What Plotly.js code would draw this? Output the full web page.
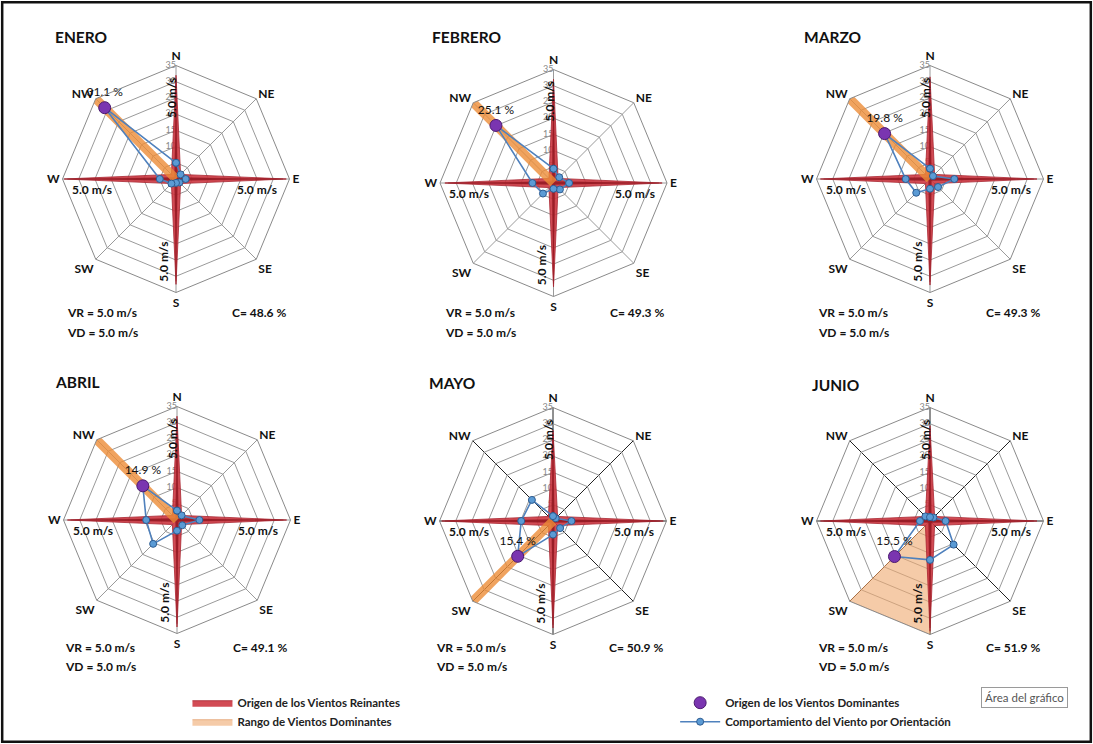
<!DOCTYPE html>
<html><head><meta charset="utf-8">
<script src="https://cdn.plot.ly/plotly-3.0.1.min.js"></script>
<style>html,body{margin:0;padding:0;background:#fff}#chart{width:1093px;height:744px}</style>
</head><body><div id="chart"></div>
<script>
// ---------- DATA ----------
const directions = ['N','NE','E','SE','S','SW','W','NW'];
const months = ['ENERO','FEBRERO','MARZO','ABRIL','MAYO','JUNIO'];

// Origen de los Vientos Reinantes (red star), values per direction
const reinantesEnero   = [32, 2, 34, 2, 32.5, 2, 34.5, 2];
const reinantesFebrero = [32, 2, 33.5, 2, 32, 2, 33.5, 2];
const reinantesMarzo   = [31.5, 2, 33, 2, 32.7, 2, 33.8, 2];
const reinantesAbril   = [32, 2, 33.8, 2, 33, 2, 33.8, 2];
const reinantesMayo    = [28, 2, 34, 2, 33, 2, 34.3, 2];
const reinantesJunio   = [29.4, 2, 33, 2, 34, 2, 33.8, 2];

// Comportamiento del Viento por Orientación (blue), % per direction
const comportEnero   = [5, 2, 3, 1.5, 1.2, 2, 5, 31.1];
const comportFebrero = [4.4, 2.5, 4.8, 2.8, 1.8, 4.6, 6.5, 25.1];
const comportMarzo   = [3.2, 1.3, 7.5, 3.5, 3, 6, 7.5, 19.8];
const comportAbril   = [2.9, 2, 6.9, 2.3, 3.3, 10.4, 9.5, 14.9];
const comportMayo    = [1.5, 1.2, 5.7, 3.1, 4.2, 15.4, 9.8, 9.2];
const comportJunio   = [1.2, 1.5, 4.8, 10.3, 12, 15.5, 3.1, 2];

// Origen de los Vientos Dominantes (purple)
const dominanteDir = ['NW','NW','NW','NW','SW','SW'];
const dominantePct = [31.1, 25.1, 19.8, 14.9, 15.4, 15.5];

// Rango de Vientos Dominantes (orange)
const rangoEnero   = ['NW'];
const rangoFebrero = ['NW'];
const rangoMarzo   = ['NW'];
const rangoAbril   = ['NW'];
const rangoMayo    = ['SW'];
const rangoJunio   = ['SW','S'];
const rangoMax = 35;

const velReinantes = [5.0, 5.0, 5.0, 5.0, 5.0, 5.0];   // VR m/s
const velDominantes = [5.0, 5.0, 5.0, 5.0, 5.0, 5.0];  // VD m/s
const calmas = [48.6, 49.3, 49.3, 49.1, 50.9, 51.9];    // C %
const radialTicks = [5, 10, 15, 20, 25, 30, 35];

const reinantes = [reinantesEnero, reinantesFebrero, reinantesMarzo, reinantesAbril, reinantesMayo, reinantesJunio];
const comport = [comportEnero, comportFebrero, comportMarzo, comportAbril, comportMayo, comportJunio];
const rangos = [rangoEnero, rangoFebrero, rangoMarzo, rangoAbril, rangoMayo, rangoJunio];

// ---------- LAYOUT GEOMETRY ----------
const W = 1093, H = 744, R = 113.5;
const centers = [[176,179],[553.5,183],[930,179],[177,520],[553,521],[930,521]];
const titleXY = [[53,37],[430,37],[802,37],[53,382],[427,383],[810,385]];
const vrXY = [[65,313],[443,313],[816,313],[63,647],[434,647],[816,647]];
const darkSpokes = [false,false,false,false,true,true];
const FONT = "Lato, 'Open Sans', sans-serif";

const px = x => x / W;
const py = y => 1 - y / H;

const data = [];
const layout = {
  width: W, height: H,
  margin: {l:0, r:0, t:0, b:0},
  paper_bgcolor: '#fff',
  font: {family: FONT, color: '#111'},
  showlegend: true,
  annotations: [],
  shapes: [{type:'rect', xref:'paper', yref:'paper', x0:0.002, x1:0.998, y0:0.003, y1:0.997,
            line:{color:'#111', width:2.5}}],
  legend: {x: 0.1715, y: 0.075, xanchor:'left', yanchor:'top', bgcolor:'rgba(0,0,0,0)',
           font:{family: FONT, size: 11.5, weight: 'bold', color:'#222'}, tracegroupgap: 0, itemwidth: 40},
  legend2: {x: 0.6177, y: 0.075, xanchor:'left', yanchor:'top', bgcolor:'rgba(0,0,0,0)',
           font:{family: FONT, size: 11.5, weight: 'bold', color:'#222'}, tracegroupgap: 0, itemwidth: 40}
};

months.forEach((m, i) => {
  const sp = 'polar' + (i ? i + 1 : '');
  const [cx, cy] = centers[i];
  layout[sp] = {
    domain: {x: [px(cx - R), px(cx + R)], y: [py(cy + R), py(cy - R)]},
    gridshape: 'linear',
    bgcolor: '#fff',
    angularaxis: {
      type: 'category', categoryarray: directions, rotation: 90, direction: 'clockwise',
      showline: true, linecolor: '#8a8a8a', linewidth: 1,
      gridcolor: darkSpokes[i] ? '#222' : '#9a9a9a', gridwidth: 1,
      ticks: '', tickfont: {family: FONT, size: 12, weight: 'bold', color: '#111'}
    },
    radialaxis: {
      range: [0, 35], tickvals: radialTicks, angle: 90, showticklabels: false,
      showline: false, gridcolor: '#9a9a9a', ticks: ''
    }
  };

  const rein = reinantes[i];
  const closedDirs = directions.concat([directions[0]]);
  const rango = rangos[i];
  const orangeTrace = rango.length > 1 ? {
    type: 'scatterpolar', subplot: sp, mode: 'lines',
    r: [0].concat(rango.map(() => rangoMax), [0]),
    theta: [rango[0]].concat(rango, [rango[rango.length - 1]]),
    fill: 'toself', fillcolor: 'rgba(238,168,110,0.6)',
    line: {color: 'rgba(220,140,80,0.6)', width: 1},
    name: 'Rango de Vientos Dominantes', showlegend: true, legend: 'legend', legendrank: 2, hoverinfo: 'skip'
  } : {
    type: 'scatterpolar', subplot: sp, mode: 'lines',
    r: [0, rangoMax], theta: [rango[0], rango[0]],
    line: {color: 'rgba(236,140,55,0.8)', width: 9},
    name: 'Rango de Vientos Dominantes', showlegend: false, hoverinfo: 'skip'
  };

  const redStar = {
    type: 'scatterpolar', subplot: sp, mode: 'lines',
    r: rein.concat([rein[0]]), theta: closedDirs,
    fill: 'toself', fillcolor: 'rgba(205,55,65,0.9)',
    line: {color: '#a82430', width: 0.8},
    name: 'Origen de los Vientos Reinantes', showlegend: i === 0, legend: 'legend', legendrank: 1, hoverinfo: 'skip'
  };
  const ridgeVals = rein.map((v, k) => k % 2 ? 0.6 : v * 0.97);
  const redRidge = {
    type: 'scatterpolar', subplot: sp, mode: 'lines',
    r: ridgeVals.concat([ridgeVals[0]]), theta: closedDirs,
    fill: 'toself', fillcolor: 'rgba(140,20,30,0.75)',
    line: {color: 'rgba(140,20,30,0.6)', width: 0.5},
    showlegend: false, hoverinfo: 'skip'
  };

  // radial tick labels, left of the N axis
  data.push({
    type: 'scatterpolar', subplot: sp, mode: 'text',
    r: radialTicks, theta: radialTicks.map(() => directions[0]),
    text: radialTicks.map(String), textposition: 'middle left',
    textfont: {family: FONT, size: 9, color: '#888'},
    showlegend: false, hoverinfo: 'skip', cliponaxis: false
  });

  if (rango.length > 1) data.push(orangeTrace, redStar, redRidge);
  else data.push(redStar, redRidge, orangeTrace);

  const c = comport[i];
  data.push({
    type: 'scatterpolar', subplot: sp, mode: 'lines+markers',
    r: c.concat([c[0]]), theta: closedDirs,
    line: {color: '#4f81bd', width: 1.6},
    marker: {size: 7, color: '#5b9bd5', line: {color: '#2e5c91', width: 1}},
    name: 'Comportamiento del Viento por Orientación', showlegend: i === 0, legend: 'legend2', legendrank: 2, hoverinfo: 'skip'
  });
  data.push({
    type: 'scatterpolar', subplot: sp, mode: 'markers+text',
    r: [dominantePct[i]], theta: [dominanteDir[i]],
    marker: {size: 12, color: '#7a35b0', line: {color: '#4b1a70', width: 1}},
    text: [dominantePct[i].toFixed(1) + ' %'], textposition: 'top center',
    textfont: {family: FONT, size: 12, color: '#111'},
    name: 'Origen de los Vientos Dominantes', showlegend: i === 0, legend: 'legend2', legendrank: 1, hoverinfo: 'skip'
  });

  // texts
  const A = layout.annotations;
  const k = R / 35;
  const lbl = velReinantes[i].toFixed(1) + ' m/s';
  const f = {family: FONT, size: 12, weight: 'bold', color: '#111'};
  A.push({xref:'paper', yref:'paper', x: px(titleXY[i][0]), y: py(titleXY[i][1]), xanchor:'left', yanchor:'middle',
          text: m, showarrow: false, font: {family: FONT, size: 15.5, weight: 'bold', color: '#111'}});
  A.push({xref:'paper', yref:'paper', x: px(vrXY[i][0]), y: py(vrXY[i][1]), xanchor:'left', yanchor:'middle',
          text: 'VR = ' + velReinantes[i].toFixed(1) + ' m/s', showarrow: false, font: f});
  A.push({xref:'paper', yref:'paper', x: px(vrXY[i][0]), y: py(vrXY[i][1] + 19), xanchor:'left', yanchor:'middle',
          text: 'VD = ' + velDominantes[i].toFixed(1) + ' m/s', showarrow: false, font: f});
  A.push({xref:'paper', yref:'paper', x: px(cx + 112), y: py(vrXY[i][1]), xanchor:'right', yanchor:'middle',
          text: 'C= ' + calmas[i].toFixed(1) + ' %', showarrow: false, font: f});
  // speed labels along the axes
  A.push({xref:'paper', yref:'paper', x: px(cx - 4), y: py(cy - 25 * k), xanchor:'center', yanchor:'middle',
          text: lbl, textangle: -90, showarrow: false, font: f});
  A.push({xref:'paper', yref:'paper', x: px(cx - 12), y: py(cy + 25.5 * k), xanchor:'center', yanchor:'middle',
          text: lbl, textangle: -90, showarrow: false, font: f});
  A.push({xref:'paper', yref:'paper', x: px(cx - 26 * k), y: py(cy + 10), xanchor:'center', yanchor:'middle',
          text: lbl, showarrow: false, font: f});
  A.push({xref:'paper', yref:'paper', x: px(cx + 25 * k), y: py(cy + 10), xanchor:'center', yanchor:'middle',
          text: lbl, showarrow: false, font: f});
});

layout.annotations.push({xref:'paper', yref:'paper', x: px(1024), y: py(697), xanchor:'center', yanchor:'middle',
  text: 'Área del gráfico', showarrow: false, font: {family: FONT, size: 11.5, color: '#555'},
  bgcolor: '#fff', bordercolor: '#9a9a9a', borderwidth: 1, borderpad: 3});

Plotly.newPlot('chart', data, layout, {displayModeBar: false, staticPlot: true});
</script></body></html>
